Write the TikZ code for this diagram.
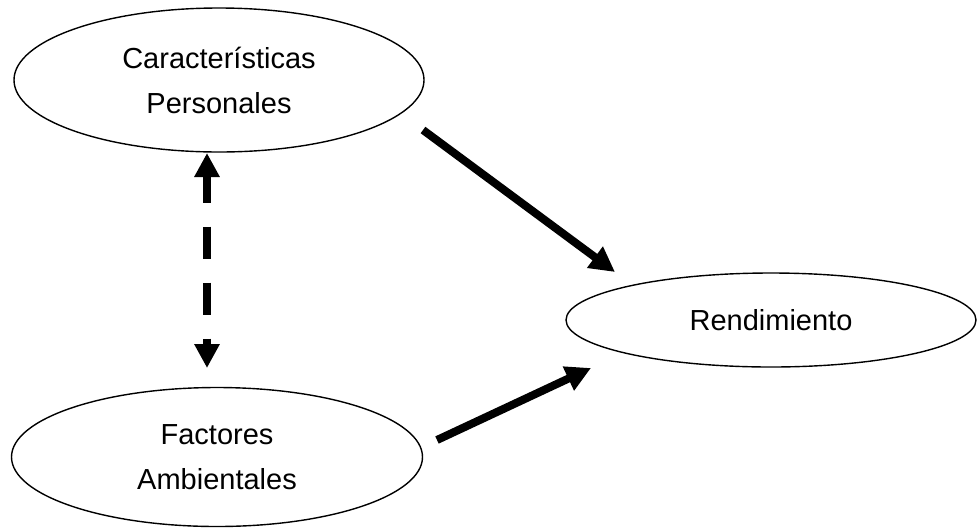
\documentclass[tikz,border=0pt]{standalone}
\usepackage{fontspec}
\setmainfont{Liberation Sans}
\usetikzlibrary{shapes.geometric,arrows.meta}
\begin{document}
\begin{tikzpicture}[x=1pt,y=-1pt,
  oval/.style={ellipse, draw, line width=1.4pt, inner sep=0pt, align=center,
    font=\fontsize{29}{45}\selectfont},
  bigarrow/.style={line width=8pt, -{Triangle[length=25pt,width=25pt]}},
  dasharrow/.style={line width=8pt, {Triangle[length=24pt,width=24pt]}-{Triangle[length=24pt,width=24pt]},
    dash pattern=on 32pt off 24pt, dash phase=5pt}]
\useasboundingbox (0,0) rectangle (979,531);
\node[oval, minimum width=410pt, minimum height=144pt] (cp) at (219,80) {Características\\Personales};
\node[oval, minimum width=411pt, minimum height=139pt] (fa) at (217,457) {Factores\\Ambientales};
\node[oval, minimum width=410pt, minimum height=94pt] (re) at (771,320) {Rendimiento};
\coordinate (a1s) at (423,130);
\coordinate (a1e) at (615,272);
\coordinate (a2s) at (437,440);
\coordinate (a2e) at (591,368);
\coordinate (dts) at (207,153);
\coordinate (dte) at (207,368);
\draw[bigarrow] (a1s) -- (a1e);
\draw[bigarrow] (a2s) -- (a2e);
\draw[dasharrow] (dts) -- (dte);
\end{tikzpicture}
\end{document}
